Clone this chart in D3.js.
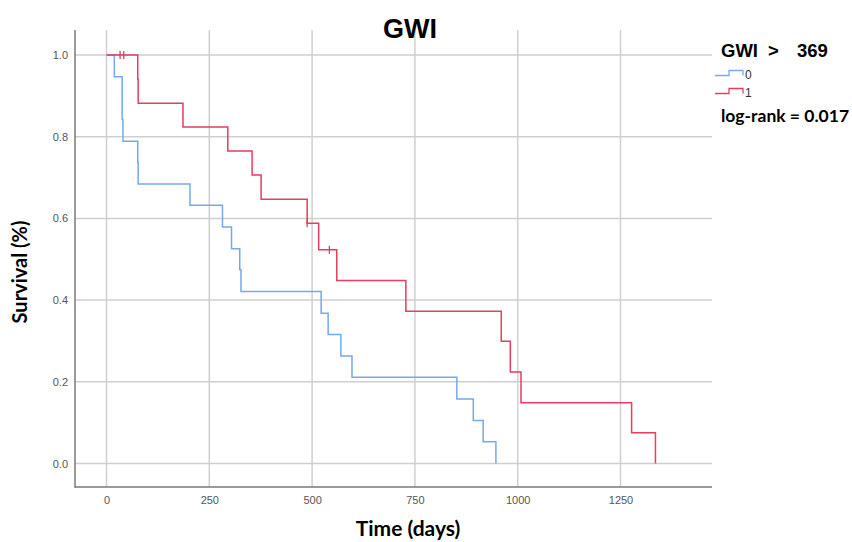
<!DOCTYPE html>
<html>
<head>
<meta charset="utf-8">
<script src="https://cdn.jsdelivr.net/npm/d3@7"></script>
<style>
  body { margin: 0; background: #fff; }
  .grid line { stroke: #cfcfcf; stroke-width: 1.5; }
  .axis path, .axis line { stroke: #7a7a7a; }
  .axis text { fill: #555; font-family: "Liberation Sans", Arial, sans-serif; font-size: 11px; }
</style>
</head>
<body>
<div class="chart"></div>
<script>
// group 0 (GWI <= 369) step curve
let time0 = [0, 19, 38, 40, 76, 77, 203, 282, 304, 324, 327, 522, 539, 570, 597, 852, 892, 916, 947];
let surv0 = [1.0, 0.947, 0.842, 0.789, 0.737, 0.684, 0.632, 0.579, 0.526, 0.474, 0.421, 0.368, 0.316, 0.263, 0.211, 0.158, 0.105, 0.053, 0.0];

// group 1 (GWI > 369)
let time1 = [0, 76, 77, 186, 295, 354, 376, 488, 516, 560, 728, 960, 982, 1008, 1277, 1335];
let surv1 = [1.0, 0.941, 0.882, 0.824, 0.765, 0.706, 0.647, 0.588, 0.523, 0.448, 0.373, 0.299, 0.224, 0.149, 0.075, 0.0];
let censTime1 = [33, 42, 488, 542];
let censSurv1 = [1.0, 1.0, 0.588, 0.523];

let xTicks = [0, 250, 500, 750, 1000, 1250];
let yTicks = [0.0, 0.2, 0.4, 0.6, 0.8, 1.0];

let W = 852, H = 542;
let pLeft = 75, pRight = 712, pTop = 30, pBottom = 487;

let svg = d3.select(".chart").append("svg")
  .attr("width", W).attr("height", H);

let x = d3.scaleLinear().domain([0, 1250]).range([106.5, 620.5]);
let y = d3.scaleLinear().domain([0, 1]).range([463.5, 55]);

// grid
let grid = svg.append("g").attr("class", "grid");
grid.selectAll(".vg").data(xTicks).enter().append("line")
  .attr("x1", d => x(d)).attr("x2", d => x(d))
  .attr("y1", pTop).attr("y2", pBottom);
grid.selectAll(".hg").data(yTicks).enter().append("line")
  .attr("x1", pLeft).attr("x2", pRight)
  .attr("y1", d => y(d)).attr("y2", d => y(d));

// axes
let xAxis = d3.axisBottom(x).tickValues(xTicks).tickSize(0).tickPadding(9).tickFormat(d3.format("d"));
let yAxis = d3.axisLeft(y).tickValues(yTicks).tickSize(0).tickPadding(7).tickFormat(d3.format(".1f"));

svg.append("g").attr("class", "axis")
  .attr("transform", "translate(0," + pBottom + ")")
  .call(xAxis)
  .call(g => g.select(".domain").remove());
svg.append("g").attr("class", "axis")
  .attr("transform", "translate(" + pLeft + ",0)")
  .call(yAxis)
  .call(g => g.select(".domain").remove());

svg.append("line").attr("x1", pLeft).attr("x2", pLeft).attr("y1", pTop).attr("y2", pBottom + 0.75)
  .attr("stroke", "#7a7a7a").attr("stroke-width", 1.5);
svg.append("line").attr("x1", pLeft).attr("x2", pRight).attr("y1", pBottom).attr("y2", pBottom)
  .attr("stroke", "#7a7a7a").attr("stroke-width", 1.5);

// curves
let line = d3.line().x(d => x(d[0])).y(d => y(d[1])).curve(d3.curveStepAfter);
let blue = "#74a9f0", red = "#e63d60";

svg.append("path").datum(d3.zip(time0, surv0))
  .attr("d", line).attr("fill", "none").attr("stroke", blue).attr("stroke-width", 1.5);
svg.append("path").datum(d3.zip(time1, surv1))
  .attr("d", line).attr("fill", "none").attr("stroke", red).attr("stroke-width", 1.5);

svg.selectAll(".cens").data(d3.zip(censTime1, censSurv1)).enter().append("line")
  .attr("class", "cens")
  .attr("x1", d => x(d[0])).attr("x2", d => x(d[0]))
  .attr("y1", d => y(d[1]) - 4).attr("y2", d => y(d[1]) + 4)
  .attr("stroke", red).attr("stroke-width", 1.3);

// titles
svg.append("text").attr("x", 410).attr("y", 38).attr("text-anchor", "middle")
  .style("font-family", "'Liberation Sans', Arial, sans-serif").style("font-weight", "bold")
  .style("font-size", "27px").text("GWI");

svg.append("text").attr("x", 408).attr("y", 536).attr("text-anchor", "middle")
  .style("font-family", "Lato, sans-serif").style("font-weight", "bold")
  .style("font-size", "21px").text("Time (days)");

svg.append("text").attr("transform", "translate(27,272) rotate(-90)").attr("text-anchor", "middle")
  .style("font-family", "Lato, sans-serif").style("font-weight", "bold")
  .style("font-size", "20px").text("Survival (%)");

// legend
let legFont = "'Liberation Sans', Arial, sans-serif";
svg.append("text").attr("x", 721).attr("y", 57)
  .style("font-family", legFont).style("font-weight", "bold").style("font-size", "18.5px").text("GWI");
svg.append("text").attr("x", 768).attr("y", 57)
  .style("font-family", legFont).style("font-weight", "bold").style("font-size", "18.5px").text(">");
svg.append("text").attr("x", 797).attr("y", 57)
  .style("font-family", legFont).style("font-weight", "bold").style("font-size", "18.5px").text("369");

let groups = ["0", "1"];
let colors = [blue, red];
let leg = svg.selectAll(".leg").data(groups).enter().append("g")
  .attr("transform", (d, i) => "translate(715," + (75.5 + i * 18) + ")");
leg.append("path")
  .attr("d", "M0,0H14V-5H28V0")
  .attr("fill", "none").attr("stroke", (d, i) => colors[i]).attr("stroke-width", 1.3);
leg.append("text").attr("x", 30).attr("y", 3)
  .style("font-family", legFont).style("font-size", "12px")
  .style("fill", "#333").text(d => d);

svg.append("text").attr("x", 721).attr("y", 122)
  .style("font-family", "Lato, sans-serif").style("font-weight", "bold")
  .style("font-size", "17.5px").text("log-rank = 0.017");
</script>
</body>
</html>
